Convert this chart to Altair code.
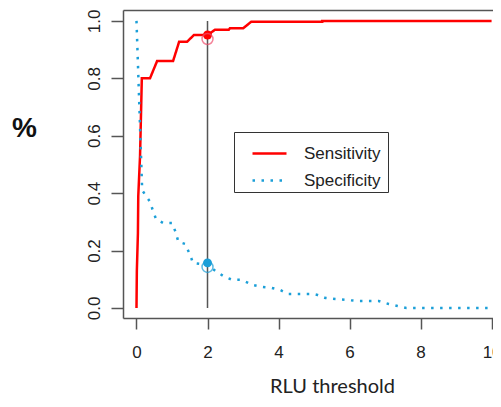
import altair as alt
import pandas as pd

# Sensitivity curve (threshold, value)
sens_x = [0.00, 0.01, 0.04, 0.05, 0.10, 0.13, 0.15, 0.38, 0.58, 1.03, 1.20, 1.42,
          1.62, 2.00, 2.21, 2.60, 2.63, 3.00, 3.23, 5.23, 5.23, 10.0]
sens_y = [0.00, 0.13, 0.26, 0.39, 0.53, 0.69, 0.80, 0.80, 0.86, 0.86, 0.927, 0.927,
          0.951, 0.951, 0.969, 0.969, 0.974, 0.974, 0.997, 0.997, 1.00, 1.00]

# Specificity curve (threshold, value)
spec_x = [0.00, 0.16, 0.38, 0.46, 0.55, 0.75, 1.00, 1.10, 1.18, 1.37, 1.51, 1.59,
          2.00, 2.27, 2.49, 2.70, 2.96, 3.28, 3.54, 3.80, 4.04, 4.27, 4.96, 5.10,
          5.32, 5.60, 5.90, 6.25, 6.82, 7.10, 7.35, 7.60, 10.0]
spec_y = [1.00, 0.41, 0.37, 0.34, 0.31, 0.296, 0.296, 0.265, 0.23, 0.223, 0.185, 0.157,
          0.150, 0.125, 0.108, 0.098, 0.098, 0.080, 0.073, 0.070, 0.063, 0.049, 0.049, 0.045,
          0.035, 0.031, 0.028, 0.024, 0.024, 0.014, 0.007, 0.000, 0.000]

series = ["Sensitivity", "Specificity"]
cutoff = 2.0
filled_y = [0.951, 0.157]
open_y = [0.937, 0.143]

x_ticks = [0, 2, 4, 6, 8, 10]
y_ticks = [0.0, 0.2, 0.4, 0.6, 0.8, 1.0]

rows = []
for i, (x, y) in enumerate(zip(sens_x, sens_y)):
    rows.append({"x": x, "y": y, "s": series[0], "i": i})
for i, (x, y) in enumerate(zip(spec_x, spec_y)):
    rows.append({"x": x, "y": y, "s": series[1], "i": i})
lines_df = pd.DataFrame(rows)

pts_df = pd.DataFrame({"x": [cutoff] * 2, "yf": filled_y, "yo": open_y, "s": series})
vline_df = pd.DataFrame({"x": [cutoff], "y": [0.0], "y2": [1.0]})

RED = "#FF0000"
BLUE = "#1B9FD8"
AX = "#555555"

xs = alt.Scale(domain=[-0.38, 10.04], nice=False, zero=False)
ys = alt.Scale(domain=[-0.035, 1.038], nice=False, zero=False)

xax = alt.Axis(values=x_ticks, title="RLU threshold", grid=False,
               domain=True, domainColor=AX, domainWidth=1.5,
               tickSize=11, tickColor=AX, tickWidth=1.5,
               labelFont="Liberation Sans", labelFontSize=17, labelColor="#222222",
               labelPadding=15, labelFlush=False, labelOverlap=False,
               titleFont="Lato", titleFontSize=20, titleFontWeight="normal",
               titleColor="#222222", titleX=209, titleY=74, titleAlign="center",
               titleBaseline="alphabetic")
xax_top = alt.Axis(orient="top", title=None, grid=False, labels=False, ticks=False,
                   domain=True, domainColor=AX, domainWidth=1.5)
yax = alt.Axis(values=y_ticks, format=".1f", title="%", grid=False,
               domain=True, domainColor=AX, domainWidth=1.5,
               tickSize=12, tickColor=AX, tickWidth=1.5,
               labelFont="Liberation Sans", labelFontSize=17, labelColor="#222222",
               labelAngle=270, labelAlign="center", labelBaseline="alphabetic",
               labelPadding=12, labelFlush=False, labelOverlap=False,
               titleFont="Liberation Sans", titleFontSize=28, titleFontWeight="bold",
               titleColor="#111111", titleAngle=0, titleX=-99, titleY=118,
               titleAlign="center", titleBaseline="middle")

legend = alt.Legend(orient="none", legendX=111, legendY=122, title="\u00a0",
                    titleOrient="right", titlePadding=4, titleFontSize=17,
                    symbolType="stroke", symbolSize=1156, symbolStrokeWidth=2.5,
                    labelFont="Liberation Sans", labelFontSize=17, labelColor="#222222",
                    labelOffset=16, symbolOffset=14, padding=3, rowPadding=-11,
                    strokeColor="#333333",
                    labelExpr="datum.label + '\u00a0\u00a0'")

vline = alt.Chart(vline_df).mark_rule(color=AX, strokeWidth=1.5).encode(
    x=alt.X("x:Q", scale=xs, axis=xax),
    y=alt.Y("y:Q", scale=ys, axis=yax),
    y2="y2:Q",
)

top_border = alt.Chart(vline_df).mark_rule(opacity=0).encode(
    x=alt.X("x:Q", scale=xs, axis=xax_top),
    y=alt.Y("y:Q", scale=ys),
    y2="y2:Q",
)

lines = alt.Chart(lines_df).mark_line(strokeWidth=2.5).encode(
    x=alt.X("x:Q", scale=xs, axis=None),
    y=alt.Y("y:Q", scale=ys),
    order="i:Q",
    color=alt.Color("s:N", scale=alt.Scale(domain=series, range=[RED, BLUE]), legend=legend),
    strokeDash=alt.StrokeDash("s:N", scale=alt.Scale(domain=series, range=[[1, 0], [2.5, 6.5]]),
                              legend=legend),
)

def point_layer(idx, col, field, filled):
    base = alt.Chart(pts_df).transform_filter(alt.datum.s == series[idx])
    if filled:
        m = base.mark_circle(color=col, size=80, opacity=1)
    else:
        m = base.mark_point(color=col, size=120, strokeWidth=1.5, filled=False)
    return m.encode(x=alt.X("x:Q", scale=xs, axis=None), y=alt.Y(field + ":Q", scale=ys))

filled_r = point_layer(0, RED, "yf", True)
filled_b = point_layer(1, BLUE, "yf", True)
open_r = point_layer(0, "#F0506E", "yo", False)
open_b = point_layer(1, BLUE, "yo", False)

chart = alt.layer(vline, top_border, lines, filled_r, filled_b, open_r, open_b).resolve_axis(
    x="independent"
).properties(
    width=370, height=308,
    padding={"left": 115, "top": 2, "right": 0, "bottom": 77},
    autosize=alt.AutoSizeParams(type="none"),
).configure_view(strokeWidth=0)

chart.save("out.html", embed_options={"renderer": "svg", "actions": False})
